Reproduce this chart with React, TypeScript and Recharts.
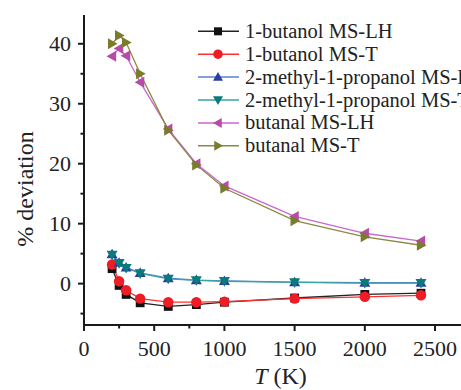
import React from 'react';
import { LineChart, Line, XAxis, YAxis, Legend } from 'recharts';

const temps = [200, 250, 300, 400, 600, 800, 1000, 1500, 2000, 2400];
const butanolLH = [2.5, -0.3, -1.8, -3.2, -3.8, -3.5, -3.1, -2.4, -1.8, -1.6];
const butanolT = [3.2, 0.4, -1.1, -2.5, -3.1, -3.1, -3.0, -2.5, -2.2, -1.95];
const methylLH = [4.9, 3.5, 2.7, 1.8, 0.9, 0.6, 0.45, 0.25, 0.15, 0.15];
const methylT = [4.8, 3.4, 2.6, 1.7, 0.8, 0.55, 0.4, 0.2, 0.1, 0.1];
const butanalLH = [37.9, 39.2, 38.0, 33.6, 25.8, 20.0, 16.3, 11.2, 8.4, 7.1];
const butanalT = [40.0, 41.4, 40.2, 35.0, 25.6, 19.8, 15.9, 10.5, 7.8, 6.4];

const xTicks = [0, 250, 500, 750, 1000, 1250, 1500, 1750, 2000, 2250, 2500];
const yTicks = [-5, 0, 5, 10, 15, 20, 25, 30, 35, 40];

const FONT = '"Liberation Serif", "Times New Roman", serif';
const AXIS = '#1a1a1a';

type Shape = 'square' | 'circle' | 'up' | 'down' | 'left' | 'right';

const series: { key: string; name: string; values: number[]; line: string; fill: string; shape: Shape }[] = [
  { key: 'bLH', name: '1-butanol MS-LH', values: butanolLH, line: '#222222', fill: '#111111', shape: 'square' },
  { key: 'bT', name: '1-butanol MS-T', values: butanolT, line: '#ff3030', fill: '#ee1c24', shape: 'circle' },
  { key: 'mLH', name: '2-methyl-1-propanol MS-LH', values: methylLH, line: '#5a7fd0', fill: '#2b3f9e', shape: 'up' },
  { key: 'mT', name: '2-methyl-1-propanol MS-T', values: methylT, line: '#3aa3a3', fill: '#0a7a7a', shape: 'down' },
  { key: 'aLH', name: 'butanal MS-LH', values: butanalLH, line: '#cc66cc', fill: '#b84aaa', shape: 'left' },
  { key: 'aT', name: 'butanal MS-T', values: butanalT, line: '#8a8a40', fill: '#7b7b2c', shape: 'right' },
];

const data = temps.map((t, i) => {
  const row: Record<string, number> = { T: t };
  series.forEach((s) => {
    row[s.key] = s.values[i];
  });
  return row;
});

function marker(shape: Shape, cx: number, cy: number, fill: string, s = 5.5) {
  switch (shape) {
    case 'square':
      return <rect x={cx - s * 0.8} y={cy - s * 0.8} width={s * 1.6} height={s * 1.6} fill={fill} />;
    case 'circle':
      return <circle cx={cx} cy={cy} r={s * 0.95} fill={fill} />;
    case 'up':
      return <polygon points={`${cx},${cy - s} ${cx - s},${cy + s * 0.75} ${cx + s},${cy + s * 0.75}`} fill={fill} />;
    case 'down':
      return <polygon points={`${cx},${cy + s} ${cx - s},${cy - s * 0.75} ${cx + s},${cy - s * 0.75}`} fill={fill} />;
    case 'left':
      return <polygon points={`${cx - s},${cy} ${cx + s * 0.75},${cy - s} ${cx + s * 0.75},${cy + s}`} fill={fill} />;
    case 'right':
      return <polygon points={`${cx + s},${cy} ${cx - s * 0.75},${cy - s} ${cx - s * 0.75},${cy + s}`} fill={fill} />;
  }
  return null;
}

const YTick = (props: any) => {
  const { x, y, payload } = props;
  const major = payload.value % 10 === 0;
  return (
    <g>
      <line x1={x} x2={x - (major ? 6 : 3.5)} y1={y} y2={y} stroke={AXIS} strokeWidth={2} />
      {major && (
        <text x={x - 13} y={y + 7.5} textAnchor="end" fontSize={22} fontFamily={FONT} fill="#222">
          {payload.value}
        </text>
      )}
    </g>
  );
};

const XTick = (props: any) => {
  const { x, y, payload } = props;
  const major = payload.value % 500 === 0;
  return (
    <g>
      <line x1={x} x2={x} y1={y} y2={y + (major ? 6 : 3.5)} stroke={AXIS} strokeWidth={2} />
      {major && (
        <text x={x} y={y + 30.5} textAnchor="middle" fontSize={22} fontFamily={FONT} fill="#222">
          {payload.value}
        </text>
      )}
    </g>
  );
};

const TopTick = (props: any) => {
  const { x, y } = props;
  return <line x1={x} x2={x} y1={y} y2={y + 3} stroke={AXIS} strokeWidth={1.5} />;
};

const YLabel = (props: any) => {
  const vb = props.viewBox || { x: 0, y: 15, width: 84, height: 310 };
  const cx = vb.x + 33;
  const cy = vb.y + vb.height / 2 + 19;
  return (
    <text x={cx} y={cy} transform={`rotate(-90 ${cx} ${cy})`} textAnchor="middle" fontSize={24} fontFamily={FONT} fill="#222">
      % deviation
    </text>
  );
};

const XLabel = (props: any) => {
  const vb = props.viewBox || { x: 84, y: 325, width: 377, height: 65 };
  const cx = vb.x + vb.width / 2 + 8;
  const cy = vb.y + 59;
  return (
    <text x={cx} y={cy} textAnchor="middle" fontSize={24} fontFamily={FONT} fill="#222">
      <tspan fontStyle="italic">T</tspan>
      <tspan> (K)</tspan>
    </text>
  );
};

const LegendContent = () => (
  <svg width={461} height={165} style={{ display: 'block', overflow: 'hidden' }}>
    {series.map((s, i) => {
      const y = 31.3 + i * 22.9;
      return (
        <g key={s.key}>
          <line x1={198} x2={239} y1={y} y2={y} stroke={s.line} strokeWidth={1.5} />
          {marker(s.shape, 218, y, s.fill, 5)}
          <text x={245} y={y + 6.5} fontSize={20.5} fontFamily={FONT} fill="#222">
            {s.name}
          </text>
        </g>
      );
    })}
  </svg>
);

export default function App() {
  return (
    <div style={{ position: 'absolute', left: 0, top: 0, width: 461, height: 390, background: '#fff', overflow: 'hidden' }}>
      <LineChart width={461} height={390} data={data} margin={{ top: 15, right: 0, bottom: 0, left: 0 }}>
        <XAxis
          xAxisId="top"
          orientation="top"
          dataKey="T"
          type="number"
          domain={[0, 2685]}
          ticks={xTicks}
          height={0}
          tickSize={0}
          tickMargin={0}
          tick={<TopTick />}
          axisLine={{ stroke: AXIS, strokeWidth: 2 }}
          tickLine={false}
        />
        <XAxis
          xAxisId="main"
          dataKey="T"
          type="number"
          domain={[0, 2685]}
          ticks={xTicks}
          height={65}
          tickSize={0}
          tickMargin={0}
          tick={<XTick />}
          tickLine={false}
          axisLine={{ stroke: AXIS, strokeWidth: 2 }}
          label={<XLabel />}
        />
        <YAxis
          type="number"
          domain={[-6.9, 44.8]}
          ticks={yTicks}
          width={84}
          tickSize={0}
          tickMargin={0}
          tick={<YTick />}
          tickLine={false}
          axisLine={{ stroke: AXIS, strokeWidth: 2 }}
          allowDataOverflow
          label={<YLabel />}
        />
        <Legend
          layout="horizontal"
          verticalAlign="middle"
          align="center"
          content={<LegendContent />}
          wrapperStyle={{ position: 'absolute', left: 0, top: 0, width: 461, height: 165 }}
        />
        {series.map((s) => (
          <Line
            key={s.key}
            xAxisId="main"
            dataKey={s.key}
            name={s.name}
            stroke={s.line}
            strokeWidth={1.3}
            isAnimationActive={false}
            dot={(p: any) => <g key={`${s.key}-${p.index}`}>{marker(s.shape, p.cx, p.cy, s.fill, 5.5)}</g>}
            activeDot={false}
          />
        ))}
      </LineChart>
    </div>
  );
}
